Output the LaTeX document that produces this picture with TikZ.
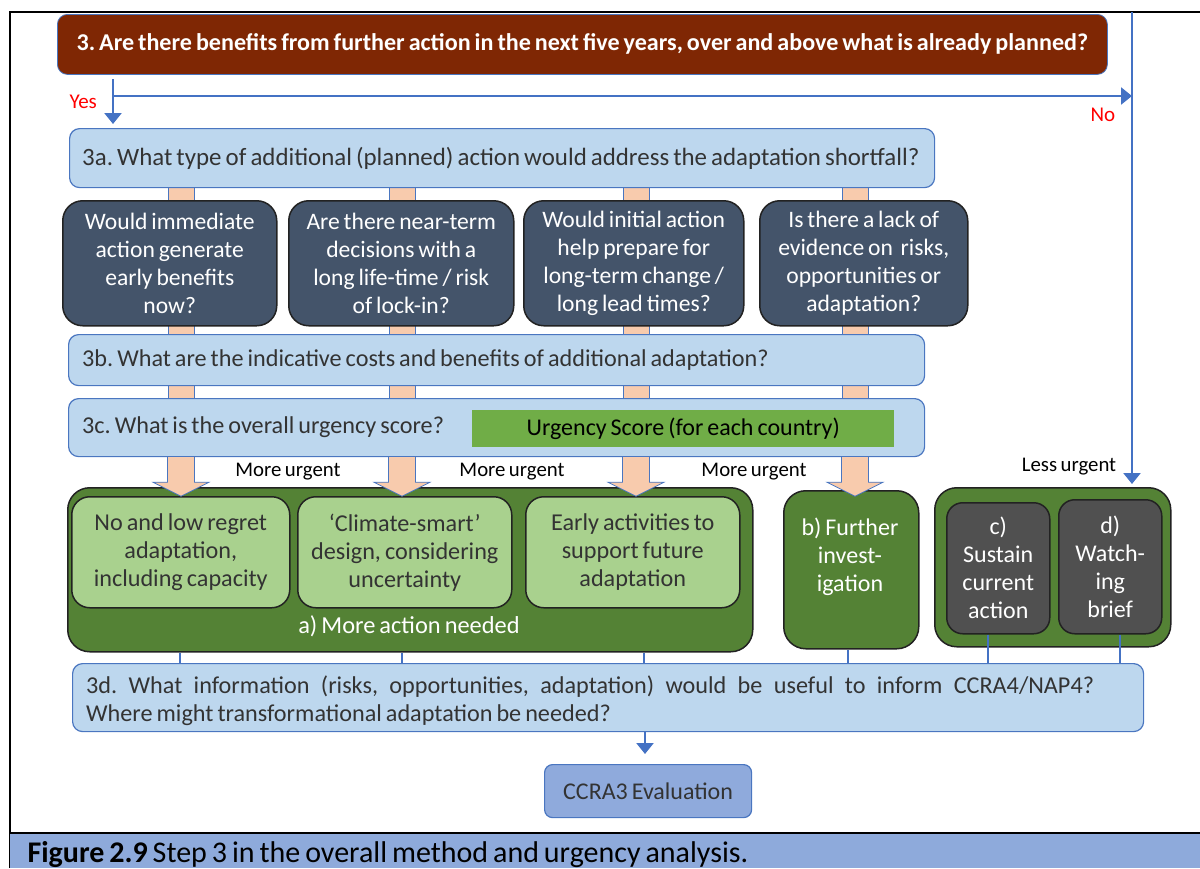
\documentclass[tikz,border=0pt]{standalone}
\usepackage{fontspec}
\setmainfont{Carlito}[WordSpace=0.73]
\usetikzlibrary{arrows.meta,calc,backgrounds}

\definecolor{titlebrown}{HTML}{7F2704}
\definecolor{qfill}{HTML}{BDD7EE}
\definecolor{qline}{HTML}{4A76C0}
\definecolor{qtext}{HTML}{333333}
\definecolor{slate}{HTML}{44546A}
\definecolor{edge}{HTML}{222222}
\definecolor{peach}{HTML}{F8CBAD}
\definecolor{flowblue}{HTML}{4472C4}
\definecolor{leaf}{HTML}{548235}
\definecolor{leaflight}{HTML}{A9D18E}
\definecolor{scoregreen}{HTML}{70AD47}
\definecolor{slategray}{HTML}{505050}
\definecolor{evalblue}{HTML}{8FAADC}
\definecolor{capblue}{HTML}{8EAADB}
\definecolor{yesno}{HTML}{FF0000}

\tikzset{
  pics/dart/.style={code={
    \path[stem] (-13.5,0) -- (-13.5,#1-14) -- (-28,#1-14) -- (0,#1)
                -- (28,#1-14) -- (13.5,#1-14) -- (13.5,0);
  }}
}

\begin{document}
\frenchspacing
\begin{tikzpicture}[x=1pt,y=-1pt,
  font=\fontsize{24}{28}\selectfont,
  sized/.style 2 args={minimum width=#1pt,minimum height=#2pt},
  titlebox/.style={fill=titlebrown,draw=qline,line width=0.8pt,rounded corners=10pt,
    text=white,font=\fontsize{24.1}{28}\selectfont\bfseries,anchor=north west,inner sep=0pt},
  qbox/.style={fill=qfill,draw=qline,line width=1.2pt,rounded corners=10pt,
    anchor=north west,inner sep=0pt},
  qlabel/.style={anchor=west,align=left,inner sep=0pt,text=qtext,
    font=\fontsize{24.2}{28}\selectfont},
  askbox/.style={fill=slate,draw=edge,line width=1.5pt,rounded corners=20pt,text=white,
    anchor=north west,align=center,inner sep=0pt,font=\fontsize{23.6}{28}\selectfont},
  holder/.style={fill=leaf,draw=edge,line width=1.5pt,rounded corners=22pt,
    anchor=north west,inner sep=0pt},
  optbox/.style={fill=leaflight,draw=edge,line width=1.5pt,rounded corners=18pt,
    text=qtext,anchor=north west,align=center,inner sep=0pt,
    font=\fontsize{24.2}{28}\selectfont},
  greybox/.style={fill=slategray,draw=edge,line width=1.5pt,rounded corners=16pt,
    text=white,anchor=north west,align=center,inner sep=0pt},
  stem/.style={fill=peach,draw=qline,line width=0.8pt},
  flow/.style={draw=flowblue,line width=2.5pt,-{Triangle[width=17pt,length=11pt]}},
  link/.style={draw=flowblue,line width=2.5pt},
  note/.style={font=\fontsize{20.8}{24}\selectfont,text=black},
  answer/.style={font=\fontsize{21}{24}\selectfont,text=yesno},
]
\useasboundingbox (0,0) rectangle (1200,868);

% outer frame and caption band
\draw[line width=2pt] (10,868) -- (10,12) -- (1200,12);
\fill[capblue] (10,833) rectangle (1200,868);
\draw[line width=2pt] (10,833) -- (1200,833);
\node[anchor=base west,font=\fontsize{30}{31}\selectfont,text=black] (cap) at (24,862)
  {\textbf{Figure 2.9} Step 3 in the overall method and urgency analysis.};

% column positions
\coordinate (c1) at (181,0);
\coordinate (c2) at (402,0);
\coordinate (c3) at (636,0);
\coordinate (c4) at (855,0);

% question boxes
\node[titlebox,sized={1050}{60}] (q3) at (57,14)
  {3. Are there benefits from further action in the next five years, over and above what is already planned?};
\node[qbox,sized={865}{59}] (q3a) at (69,128) {};
\node[qlabel,font=\fontsize{24.9}{28}\selectfont] (q3aT) at ($(q3a.west)+(13,0)$)
  {3a. What type of additional (planned) action would address the adaptation shortfall?};

\node[askbox,sized={214}{125}] (dk1) at (62,200)
  {Would immediate\\action generate\\early benefits\\now?};
\node[askbox,sized={225}{125}] (dk2) at (288,200)
  {Are there near-term\\decisions with a\\long life-time / risk\\of lock-in?};
\node[askbox,sized={220}{125}] (dk3) at (523,200)
  {Would initial action\\help prepare for\\long-term change /\\long lead times?};
\node[askbox,sized={208}{125}] (dk4) at (759,200)
  {Is there a lack of\\evidence on \ risks,\\opportunities or\\adaptation?};

\node[qbox,sized={856}{51}] (q3b) at (68,334) {};
\node[qlabel] (q3bT) at ($(q3b.west)+(14,0)$)
  {3b. What are the indicative costs and benefits of additional adaptation?};
\node[qbox,sized={856}{58}] (q3c) at (68,398) {};
\node[qlabel] (q3cT) at ($(q3c.west)+(14,0)$)
  {3c. What is the overall urgency score?};
\node[fill=scoregreen,anchor=north west,sized={422}{37},inner sep=0pt,text=black] (urg) at (472,410)
  {Urgency Score (for each country)};

% connecting stems behind the boxes
\begin{scope}[on background layer]
\foreach \c/\k in {c1/dk1,c2/dk2,c3/dk3,c4/dk4}{
  \path[stem] ($(\c |- q3a.south)+(-13,-4)$) rectangle ($(\c |- \k.north)+(13,4)$);
  \path[stem] ($(\c |- \k.south)+(-13,-4)$) rectangle ($(\c |- q3b.north)+(13,4)$);
  \path[stem] ($(\c |- q3b.south)+(-13,-4)$) rectangle ($(\c |- q3c.north)+(13,4)$);
}
\end{scope}

% outcome groups
\node[holder,sized={685}{164}] (boxA) at (67,487) {};
\node[optbox,sized={218}{111}] (opt1) at (71,496)
  {No and low regret\\adaptation,\\including capacity};
\node[optbox,sized={214}{111}] (opt2) at (297,496)
  {‘Climate-smart’\\design, considering\\uncertainty};
\node[optbox,sized={214}{111}] (opt3) at (525,496)
  {Early activities to\\support future\\adaptation};
\node[text=white,font=\fontsize{24.4}{28}\selectfont] (lblA) at (409,626) {a) More action needed};

\node[holder,sized={135}{158}] (boxB) at (783,490) {};
\node[text=white,align=center] (lblB) at (850,557) {b) Further\\invest-\\igation};

\node[holder,sized={236}{159}] (boxCD) at (934,487) {};
\node[greybox,sized={103}{131}] (optC) at (946,502) {c)\\Sustain\\current\\action};
\node[greybox,sized={103}{134}] (optD) at (1058,499) {d)\\Watch-\\ing\\brief};

% urgency arrows
\foreach \c in {c1,c2,c3,c4}{
  \pic at (\c |- q3c.south) {dart=39};
}
\node[note] (mu1) at (288,472) {More urgent};
\node[note] (mu2) at (512,472) {More urgent};
\node[note] (mu3) at (754,472) {More urgent};
\node[note] (lu) at (1069,467) {Less urgent};

% yes / no routing
\coordinate (yesTop) at (113,79);
\coordinate (fork) at (113,96);
\coordinate (noTop) at (1132,12);
\draw[flow,shorten >=4pt] (yesTop) -- (yesTop |- q3a.north);
\draw[flow] (fork) -- (fork -| noTop);
\draw[flow,shorten >=3pt] (noTop) -- (noTop |- boxCD.north);
\node[answer,anchor=base west] (yes) at (66,108) {Yes};
\node[answer,anchor=base west] (no) at (1087,121) {No};

% final question and evaluation
\node[qbox,sized={1071}{68}] (q3d) at (72,663) {};
\node[qlabel] (q3dT) at ($(q3d.west)+(14,3)$)
  {\makebox[1008pt][s]{3d. What information (risks, opportunities, adaptation) would be useful to inform CCRA4/NAP4?}\\
   Where might transformational adaptation be needed?};
\node[fill=evalblue,draw=qline,line width=1.2pt,rounded corners=8pt,anchor=north west,
  sized={207}{53},inner sep=0pt,text=qtext] (eval) at (544,764) {CCRA3 Evaluation};

\coordinate (l1) at (180,0);
\coordinate (l2) at (402,0);
\coordinate (l3) at (644,0);
\coordinate (l4) at (848,0);
\coordinate (l5) at (988,0);
\coordinate (l6) at (1120,0);
\coordinate (l7) at (645,0);
\foreach \l in {l1,l2,l3}{
  \draw[link] (\l |- boxA.south) -- (\l |- q3d.north);
}
\draw[link] (l4 |- boxB.south) -- (l4 |- q3d.north);
\draw[link] (l5 |- optC.south) -- (l5 |- q3d.north);
\draw[link] (l6 |- optD.south) -- (l6 |- q3d.north);
\draw[flow,shorten >=10pt] (l7 |- q3d.south) -- (l7 |- eval.north);
\end{tikzpicture}
\end{document}
